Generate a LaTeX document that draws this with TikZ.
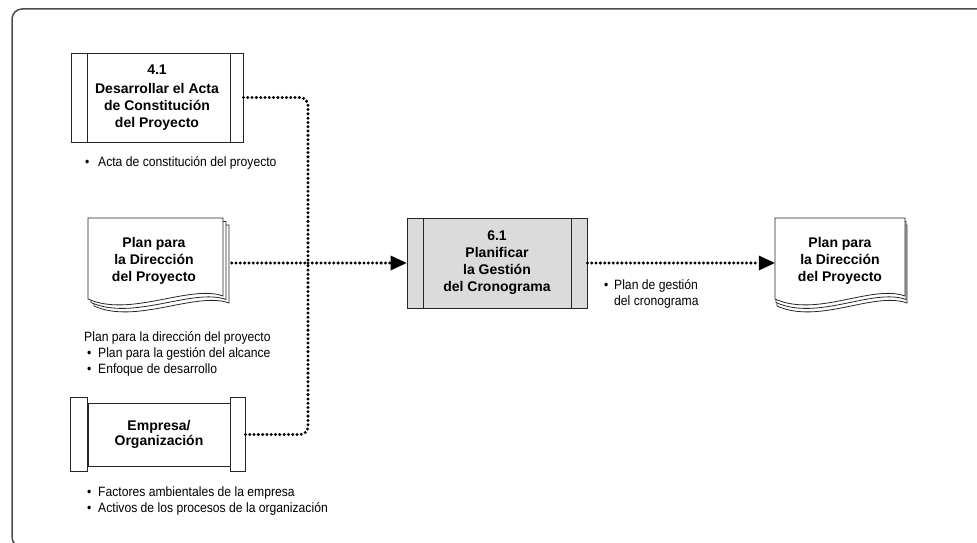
\documentclass[tikz,border=0pt]{standalone}
\usepackage{fontspec}
\setmainfont{Liberation Sans}
\newfontfamily\narrowfont{Liberation Sans}[FakeStretch=0.9]
\usetikzlibrary{arrows.meta,calc}
\tikzset{
 boxline/.style={draw=black!85, line width=0.9pt},
 lbl/.style={font=\fontsize{14}{17}\selectfont\bfseries, align=center, inner sep=0pt},
 note/.style={font=\narrowfont\fontsize{13.5}{16}\selectfont, align=left, inner sep=0pt, anchor=west},
 dots/.style={draw=black, line width=3.3pt, dash pattern=on 0pt off 4.3pt, line cap=round},
 arrowend/.style={-{Triangle[length=16pt,width=15pt,line width=0pt]}},
}
\newcommand\pmidoc[5]{%
 \foreach \k in {2,1,0}{
  \filldraw[draw=black!85, line width=0.8pt, fill=white]
   (#1+\k*#4, #2+\k*#5) -- (#1+#3+\k*#4, #2+\k*#5) -- (#1+#3+\k*#4, #2+78+\k*#5)
   .. controls (#1+#3-33+\k*#4, #2+66+\k*#5) and (#1+42+\k*#4, #2+100+\k*#5) .. (#1+\k*#4, #2+81+\k*#5) -- cycle;
 }}
\begin{document}
\begin{tikzpicture}[x=1pt,y=-1pt]
\useasboundingbox (0,0) rectangle (977,543);
\clip (0,0) rectangle (977,543);
\draw[line width=1.5pt, draw=black!70, rounded corners=10pt] (12,9) rectangle (1000,547);

% 4.1
\node[boxline, lbl, minimum width=172pt, minimum height=89pt] (b41) at (157,97.5)
  {4.1\\[2pt]Desarrollar el Acta\\de Constitución\\del Proyecto};
\draw[boxline] ([xshift=17pt]b41.north west) -- ([xshift=17pt]b41.south west);
\draw[boxline] ([xshift=-13pt]b41.north east) -- ([xshift=-13pt]b41.south east);
\node[note] (n41) at (84,163) {\makebox[14pt][l]{\hspace{1pt}\textbullet}Acta de constitución del proyecto};

% left document
\pmidoc{88}{218}{135}{3}{3.5}
\node[lbl, minimum width=135pt, minimum height=86pt] (pdoc) at (154,261)
  {Plan para\\la Dirección\\del Proyecto};
\node[note] (npd) at (84,354) {Plan para la dirección del proyecto\\
  \makebox[14pt][l]{\hspace{3pt}\textbullet}Plan para la gestión del alcance\\
  \makebox[14pt][l]{\hspace{3pt}\textbullet}Enfoque de desarrollo};

% Empresa
\node[boxline, lbl, minimum width=142pt, minimum height=63pt, font=\fontsize{14}{15.5}\selectfont\bfseries] (emp) at (159,434.5)
  {Empresa/\\Organización};
\draw[boxline] ([yshift=5pt]emp.north west) rectangle ([xshift=-17pt,yshift=-5pt]emp.south west);
\draw[boxline] ([yshift=5pt]emp.north east) rectangle ([xshift=15pt,yshift=-5pt]emp.south east);
\node[note] (nemp) at (84,501) {\makebox[14pt][l]{\hspace{3pt}\textbullet}Factores ambientales de la empresa\\
  \makebox[14pt][l]{\hspace{3pt}\textbullet}Activos de los procesos de la organización};

% 6.1
\node[boxline, lbl, fill=black!14, minimum width=180pt, minimum height=90pt] (b61) at (497,263)
  {6.1\\Planificar\\la Gestión\\del Cronograma};
\draw[boxline] ([xshift=17pt]b61.north west) -- ([xshift=17pt]b61.south west);
\draw[boxline] ([xshift=-16pt]b61.north east) -- ([xshift=-16pt]b61.south east);

% right document
\pmidoc{775}{218}{130}{1}{3.5}
\node[lbl, minimum width=130pt, minimum height=86pt] (rdoc) at (840,261)
  {Plan para\\la Dirección\\del Proyecto};
\node[note] (n61) at (602,294) {\makebox[12pt][l]{\hspace{2pt}\textbullet}Plan de gestión\\
  \hspace*{12pt}del cronograma};

% connectors
\coordinate (bus) at (308,263);
\draw[dots, rounded corners=8pt] (b41.east) -| (bus);
\draw[dots, rounded corners=8pt] ([xshift=15pt]emp.east) -| (bus);
\draw[dots] ([xshift=10pt]pdoc.east |- bus) -- (bus);
\draw[dots, arrowend] (bus) -- (b61.west);
\draw[dots, arrowend] (b61.east) -- (b61.east -| rdoc.west);
\end{tikzpicture}
\end{document}
